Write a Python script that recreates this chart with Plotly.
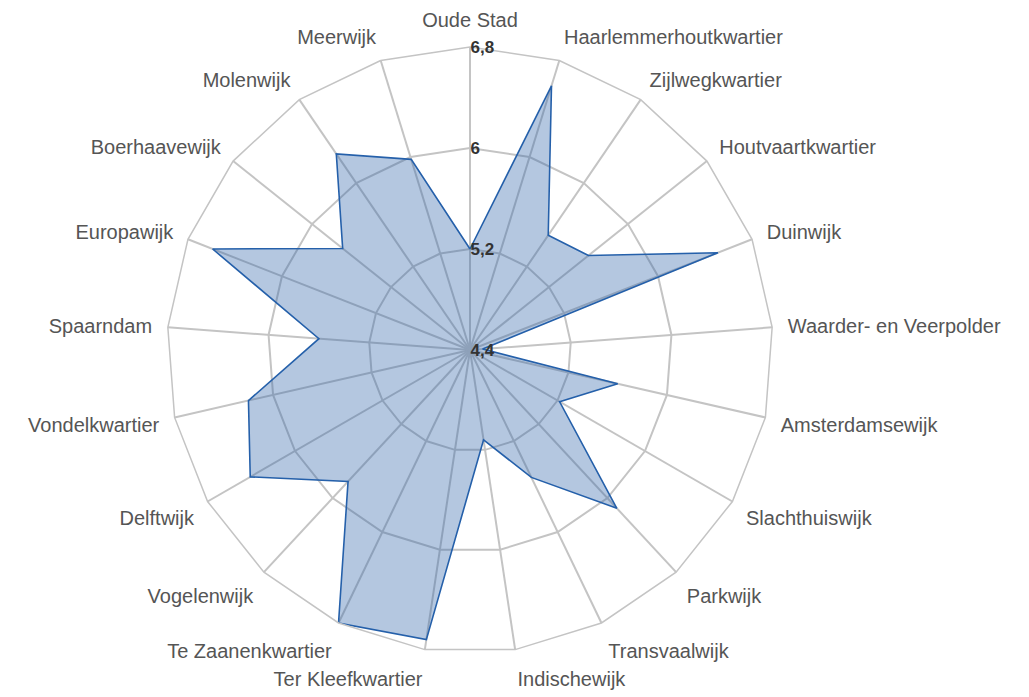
import plotly.graph_objects as go

categories = [
    "Oude Stad", "Haarlemmerhoutkwartier", "Zijlwegkwartier", "Houtvaartkwartier",
    "Duinwijk", "Waarder- en Veerpolder", "Amsterdamsewijk", "Slachthuiswijk",
    "Parkwijk", "Transvaalwijk", "Indischewijk", "Ter Kleefkwartier",
    "Te Zaanenkwartier", "Vogelenwijk", "Delftwijk", "Vondelkwartier",
    "Spaarndam", "Europawijk", "Boerhaavewijk", "Molenwijk", "Meerwijk",
]
values = [
    5.2, 6.59, 5.50, 5.60,
    6.51, 4.50, 5.60, 5.22,
    6.11, 5.52, 5.12, 6.72,
    6.80, 5.82, 6.41, 6.20,
    5.60, 6.59, 5.69, 6.28, 5.98,
]
tick_vals = [4.4, 5.2, 6.0, 6.8]
tick_text = ["4,4", "5,2", "6", "6,8"]

theta = categories + categories[:1]
r = values + values[:1]

fig = go.Figure()
fig.add_trace(go.Scatterpolar(
    r=r, theta=theta, mode="lines", fill="toself",
    line=dict(color="#2560aa", width=1.6),
    fillcolor="rgba(47,100,170,0.36)",
    hoverinfo="r+theta",
))

fig.update_layout(
    width=1029, height=697,
    margin=dict(l=159, r=264, t=39, b=52),
    paper_bgcolor="white",
    showlegend=False,
    separators=", ",
    font=dict(family="Liberation Sans, Arial, sans-serif", size=19, color="#555555"),
    polar=dict(
        bgcolor="white",
        gridshape="linear",
        radialaxis=dict(
            range=[4.4, 6.8],
            tickvals=tick_vals, ticktext=tick_text,
            angle=90, tickangle=90,
            showline=False, ticks="",
            gridcolor="#c4c4c4", gridwidth=1.5,
            tickfont=dict(size=17, color="#333333", weight="bold"),
            layer="above traces",
        ),
        angularaxis=dict(
            direction="clockwise", rotation=90,
            showline=True, linecolor="#c4c4c4", linewidth=1.5,
            gridcolor="#c4c4c4", gridwidth=1.5,
            ticks="outside", ticklen=11, tickcolor="rgba(0,0,0,0)",
            tickfont=dict(size=20, color="#555555"),
        ),
    ),
)

fig.write_html("out.html")
